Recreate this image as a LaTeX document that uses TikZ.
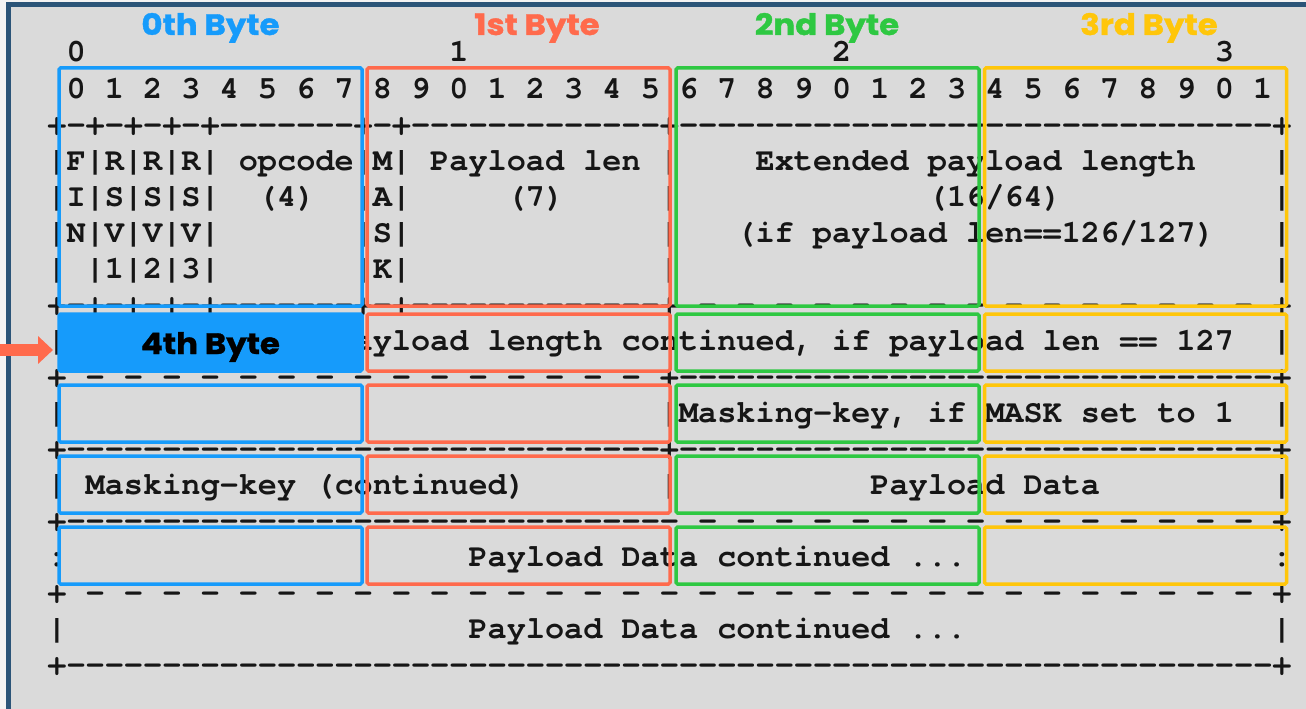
\documentclass[tikz,border=0pt]{standalone}
\usepackage{fontspec}
\usetikzlibrary{arrows.meta}
\newfontfamily\asciifont{texgyrecursor}[Extension=.otf,
  UprightFont=*-regular, BoldFont=*-bold]
\newfontfamily\labelfont{Poppins}[FakeStretch=1.1, FakeBold=1.2]

\definecolor{pagebg}{RGB}{243,243,243}
\definecolor{panel}{RGB}{218,218,218}
\definecolor{frame}{RGB}{43,84,120}
\definecolor{ink}{RGB}{22,22,22}
\definecolor{byteblue}{RGB}{22,155,251}
\definecolor{byteorange}{RGB}{255,106,76}
\definecolor{bytegreen}{RGB}{46,200,66}
\definecolor{byteyellow}{RGB}{255,198,10}

% repeat a token list n times
\ExplSyntaxOn
\cs_new:Npn \rept #1#2 { \prg_replicate:nn {#1} {#2} }
\ExplSyntaxOff
% blank run of n character cells
\newcommand\gap[1]{\hskip#1\fontcharwd\font`0\relax}

\tikzset{
  ascii/.style={anchor=base west, inner sep=0pt, outer sep=0pt, text=ink,
    font={\asciifont\bfseries\fontsize{31.9pt}{36pt}\selectfont}},
  title/.style={anchor=base, inner sep=0pt,
    font={\labelfont\bfseries\fontsize{29.5pt}{32pt}\selectfont}},
  cell/.style={draw=#1, line width=3.5pt, rounded corners=1.5pt,
    minimum width=303pt, inner sep=0pt},
  pointer/.style={draw=byteorange, line width=12pt,
    -{Triangle[length=15pt,width=27pt]}},
}

\begin{document}
\begin{tikzpicture}[x=1pt,y=-1pt]
\useasboundingbox (0,0) rectangle (1306,709);
% page and frame
\fill[pagebg] (0,0) rectangle (1306,709);
\fill[panel] (11,7) rectangle (1306,709);
\fill[frame] (6,2) rectangle (11,709);
\fill[frame] (6,2) rectangle (1306,7);

% frame layout, one line of characters per node
\node[ascii] (l0)  at (47.43,62)  {\gap{1}0\gap{19}1\gap{19}2\gap{19}3};
\node[ascii] (l1)  at (47.43,98)  {\gap{1}0~1~2~3~4~5~6~7~8~9~0~1~2~3~4~5~6~7~8~9~0~1~2~3~4~5~6~7~8~9~0~1};
\node[ascii] (l2)  at (47.43,134) {+-+-+-+-+\rept{7}{-}+-+\rept{13}{-}+\rept{31}{-}+};
\node[ascii] (l3)  at (47.43,170) {|F|R|R|R|~opcode|M|~Payload~len~|\gap{4}Extended~payload~length\gap{4}|};
\node[ascii] (l4)  at (47.43,206) {|I|S|S|S|\gap{2}(4)\gap{2}|A|\gap{5}(7)\gap{5}|\gap{13}(16/64)\gap{11}|};
\node[ascii] (l5)  at (47.43,242) {|N|V|V|V|\gap{7}|S|\gap{13}|\gap{3}(if~payload~len==126/127)\gap{3}|};
\node[ascii] (l6)  at (47.43,278) {|~|1|2|3|\gap{7}|K|\gap{13}|\gap{31}|};
\node[ascii] (l7)  at (47.43,314) {+-+-+-+-+\rept{7}{-}+-+\rept{13}{-}+\rept{15}{~-}~+};
\node[ascii] (l8)  at (47.43,350) {|\gap{5}Extended~payload~length~continued,~if~payload~len~==~127\gap{2}|};
\node[ascii] (l9)  at (47.43,386) {+\rept{15}{~-}~+\rept{31}{-}+};
\node[ascii] (l10) at (47.43,422) {|\gap{31}|Masking-key,~if~MASK~set~to~1\gap{2}|};
\node[ascii] (l11) at (47.43,458) {+\rept{31}{-}+\rept{31}{-}+};
\node[ascii] (l12) at (47.43,494) {|~Masking-key~(continued)\gap{7}|\gap{10}Payload~Data\gap{9}|};
\node[ascii] (l13) at (47.43,530) {+\rept{32}{-}\rept{15}{~-}~+};
\node[ascii] (l14) at (47.43,566) {:\gap{21}Payload~Data~continued~...\gap{16}:};
\node[ascii] (l15) at (47.43,602) {+\rept{31}{~-}~+};
\node[ascii] (l16) at (47.43,638) {|\gap{21}Payload~Data~continued~...\gap{16}|};
\node[ascii] (l17) at (47.43,674) {+\rept{63}{-}+};

% byte headings
\node[title, text=byteblue]   (t0) at (210.5,35) {0th Byte};
\node[title, text=byteorange] (t1) at (537,35)   {1st Byte};
\node[title, text=bytegreen]  (t2) at (827,35)   {2nd Byte};
\node[title, text=byteyellow] (t3) at (1149,35)  {3rd Byte};

% byte columns, first word
\node[cell=byteblue,   minimum height=238pt] (a0) at (210.5,187) {};
\node[cell=byteorange, minimum height=238pt] (a1) at (518.5,187) {};
\node[cell=bytegreen,  minimum height=238pt] (a2) at (827.5,187) {};
\node[cell=byteyellow, minimum height=238pt, minimum width=302pt] (a3) at (1135.5,187) {};

% second word
\node[cell=byteblue, fill=byteblue, minimum height=57pt] (b0) at (210.5,342.5) {};
\node[cell=byteorange, minimum height=57pt] (b1) at (518.5,342.5) {};
\node[cell=bytegreen,  minimum height=57pt] (b2) at (827.5,342.5) {};
\node[cell=byteyellow, minimum height=57pt, minimum width=302pt] (b3) at (1135.5,342.5) {};

% third word
\node[cell=byteblue,   minimum height=57pt] (c0) at (210.5,413.5) {};
\node[cell=byteorange, minimum height=57pt] (c1) at (518.5,413.5) {};
\node[cell=bytegreen,  minimum height=57pt] (c2) at (827.5,413.5) {};
\node[cell=byteyellow, minimum height=57pt, minimum width=302pt] (c3) at (1135.5,413.5) {};

% fourth word
\node[cell=byteblue,   minimum height=57pt] (d0) at (210.5,484.5) {};
\node[cell=byteorange, minimum height=57pt] (d1) at (518.5,484.5) {};
\node[cell=bytegreen,  minimum height=57pt] (d2) at (827.5,484.5) {};
\node[cell=byteyellow, minimum height=57pt, minimum width=302pt] (d3) at (1135.5,484.5) {};

% fifth word
\node[cell=byteblue,   minimum height=57pt] (e0) at (210.5,555.5) {};
\node[cell=byteorange, minimum height=57pt] (e1) at (518.5,555.5) {};
\node[cell=bytegreen,  minimum height=57pt] (e2) at (827.5,555.5) {};
\node[cell=byteyellow, minimum height=57pt, minimum width=302pt] (e3) at (1135.5,555.5) {};

% highlighted byte and its pointer
\node[title, text=black] (b0label) at (210.5,354) {4th Byte};
\coordinate (arrowtail) at (0,350);
\draw[pointer, shorten >=4.25pt] (arrowtail) -- (b0.west |- arrowtail);
\end{tikzpicture}
\end{document}
